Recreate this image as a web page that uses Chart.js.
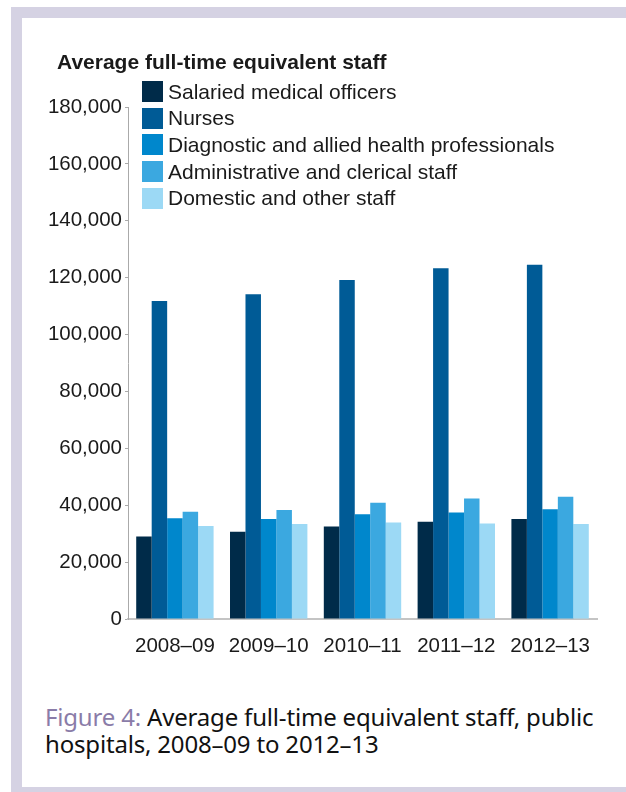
<!DOCTYPE html>
<html>
<head>
<meta charset="utf-8">
<script src="https://cdn.jsdelivr.net/npm/chart.js@4.4.1/dist/chart.umd.min.js"></script>
<style>
  html, body { margin: 0; padding: 0; background: #fff; }
  body { width: 626px; height: 792px; position: relative; overflow: hidden; }
  .frame {
    position: absolute; left: 11px; top: 7px; width: 700px; height: 791px;
    box-sizing: border-box; border: 11px solid #d5d2e3; background: #fff;
  }
  .chart-box { position: absolute; left: 0; top: 0; width: 626px; height: 680px; }
  .chart-title {
    position: absolute; left: 57px; top: 50px; margin: 0;
    font: bold 21px "Liberation Sans", Arial, sans-serif; color: #1a1a1a;
  }
  #legend { position: absolute; left: 142px; top: 81px; margin: 0; padding: 0; list-style: none; }
  #legend li {
    display: flex; align-items: center; height: 21px; margin-bottom: 5.7px;
    font: 21px "Liberation Sans", Arial, sans-serif; color: #1a1a1a; white-space: nowrap;
  }
  #legend .swatch { width: 21px; height: 21px; margin-right: 5px; flex: none; }
  .caption {
    position: absolute; left: 45px; top: 703px; margin: 0;
    font: 24px "Noto Sans", sans-serif; line-height: 27px; color: #111; letter-spacing: -0.18px;
  }
  .caption span { color: #8a7ca8; }
</style>
</head>
<body>
<div class="frame"></div>
<div class="chart-box"><canvas id="staffChart"></canvas></div>
<p class="chart-title">Average full-time equivalent staff</p>
<ul id="legend"></ul>
<p class="caption"><span>Figure 4:</span> Average full-time equivalent staff, public<br>hospitals, 2008–09 to 2012–13</p>
<script>
/* global Chart */
const years = ['2008–09', '2009–10', '2010–11', '2011–12', '2012–13'];
const medicalOfficers = [29000, 30700, 32500, 34200, 35200];
const nurses = [111800, 114200, 119200, 123300, 124500];
const diagnosticAllied = [35400, 35200, 36800, 37400, 38600];
const adminClerical = [37700, 38300, 40900, 42400, 43000];
const domesticOther = [32700, 33400, 33900, 33600, 33400];
const yTicks = [0, 20000, 40000, 60000, 80000, 100000, 120000, 140000, 160000, 180000];

const series = [
    { label: 'Salaried medical officers', data: medicalOfficers, color: '#002b49' },
    { label: 'Nurses', data: nurses, color: '#005b96' },
    { label: 'Diagnostic and allied health professionals', data: diagnosticAllied, color: '#0087cc' },
    { label: 'Administrative and clerical staff', data: adminClerical, color: '#3ba8e0' },
    { label: 'Domestic and other staff', data: domesticOther, color: '#9cd9f5' }
];

const tickFont = { family: '"Liberation Sans", Arial, sans-serif', size: 20.5 };

const chart = new Chart(document.getElementById('staffChart'), {
    type: 'bar',
    data: {
        labels: years,
        datasets: series.map(s => ({
            label: s.label,
            data: s.data,
            backgroundColor: s.color,
            borderWidth: 0,
            barPercentage: 1,
            categoryPercentage: 0.825
        }))
    },
    options: {
        responsive: true,
        maintainAspectRatio: false,
        animation: false,
        layout: { padding: { top: 107, right: 29, bottom: 0, left: 0 } },
        plugins: {
            legend: { display: false },
            tooltip: { enabled: false }
        },
        scales: {
            x: {
                grid: { display: false },
                border: { display: true, color: '#c4c4c4', width: 2 },
                ticks: { color: '#1a1a1a', font: tickFont, padding: 7, maxRotation: 0 },
                afterFit: (scale) => { scale.height = 61; }
            },
            y: {
                min: 0,
                max: 180000,
                afterBuildTicks: (scale) => { scale.ticks = yTicks.map(v => ({ value: v })); },
                grid: { drawOnChartArea: false, drawTicks: true, tickLength: 3, color: '#aaa' },
                border: { display: true, color: '#aaa', width: 1 },
                ticks: {
                    color: '#1a1a1a',
                    font: tickFont,
                    padding: 3,
                    callback: (v) => v.toLocaleString('en-US')
                },
                afterFit: (scale) => { scale.width = 128; }
            }
        }
    }
});

// legend list built from the datasets
const legendEl = document.getElementById('legend');
chart.data.datasets.forEach(ds => {
    const li = document.createElement('li');
    const sw = document.createElement('span');
    sw.className = 'swatch';
    sw.style.background = ds.backgroundColor;
    li.appendChild(sw);
    li.appendChild(document.createTextNode(ds.label));
    legendEl.appendChild(li);
});
</script>
</body>
</html>
